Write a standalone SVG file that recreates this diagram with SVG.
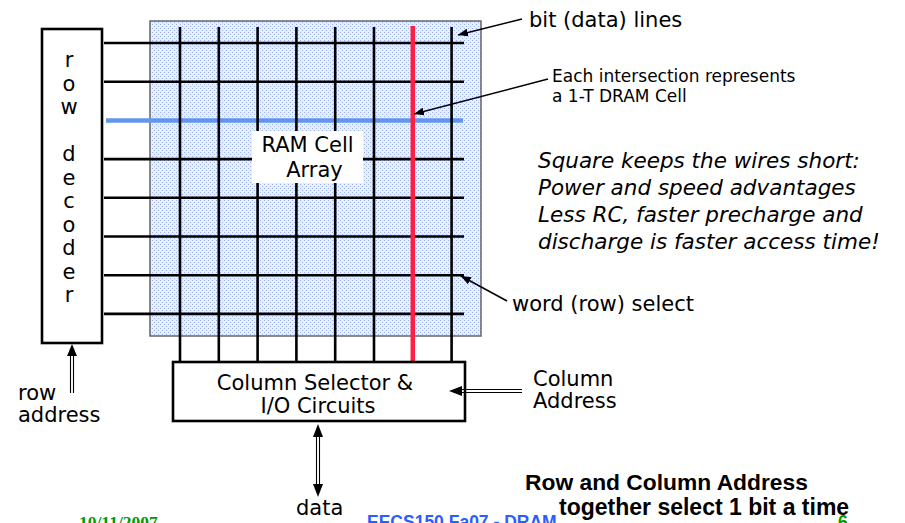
<svg xmlns="http://www.w3.org/2000/svg" width="905" height="523" viewBox="0 0 905 523">
<style>
.t{font-family:"DejaVu Sans","Liberation Sans",sans-serif;font-size:21px;fill:#000}
.it{font-family:"DejaVu Sans","Liberation Sans",sans-serif;font-size:21.5px;font-style:italic;fill:#000}
.sm{font-family:"DejaVu Sans","Liberation Sans",sans-serif;font-size:17px;fill:#000}
.bold{font-family:"Liberation Sans",Arial,sans-serif;font-weight:bold;fill:#000}
.wire{stroke:#000;stroke-width:2.6;fill:none}
.box{fill:#fff;stroke:#000;stroke-width:2.6}
.thin{stroke:#000;stroke-width:1.5;fill:none}
.dbl{stroke:#000;stroke-width:1.1;fill:none}
</style>
<defs>
<pattern id="dots" width="4" height="4" patternUnits="userSpaceOnUse">
<rect width="4" height="4" fill="#e8eefc"/>
<rect x="0" y="0" width="1" height="1" fill="#9bb3ec"/>
<rect x="2" y="2" width="1" height="1" fill="#9bb3ec"/>
</pattern>
<marker id="ah" viewBox="0 0 10 8" refX="10" refY="4" markerWidth="10" markerHeight="8" markerUnits="userSpaceOnUse" orient="auto">
<path d="M0,0 L10,4 L0,8 Z" fill="#000"/>
</marker>
</defs>

<g id="cell-array">
<rect x="150" y="21" width="331" height="315" fill="url(#dots)" stroke="#666" stroke-width="1.5"/>
<g class="wire">
<line x1="104" y1="43" x2="464" y2="43"/>
<line x1="104" y1="81.7" x2="464" y2="81.7"/>
<line x1="104" y1="159.1" x2="464" y2="159.1"/>
<line x1="104" y1="197.8" x2="464" y2="197.8"/>
<line x1="104" y1="236.5" x2="464" y2="236.5"/>
<line x1="104" y1="275.2" x2="464" y2="275.2"/>
<line x1="104" y1="313.9" x2="464" y2="313.9"/>
</g>
<line x1="106" y1="120.4" x2="463" y2="120.4" stroke="#6495ed" stroke-width="4.5"/>
<g class="wire">
<line x1="180" y1="27" x2="180" y2="362"/>
<line x1="218.8" y1="27" x2="218.8" y2="362"/>
<line x1="257.6" y1="27" x2="257.6" y2="362"/>
<line x1="296.4" y1="27" x2="296.4" y2="362"/>
<line x1="335.2" y1="27" x2="335.2" y2="362"/>
<line x1="374" y1="27" x2="374" y2="362"/>
<line x1="451.6" y1="27" x2="451.6" y2="362"/>
</g>
<line x1="412.8" y1="26" x2="412.8" y2="362" stroke="#ff1f44" stroke-width="4.5"/>
<rect x="252" y="131" width="111" height="52" fill="#fff"/>
<text class="t" x="307.5" y="152" text-anchor="middle">RAM Cell</text>
<text class="t" x="314.5" y="177" text-anchor="middle">Array</text>
</g>

<g id="row-decoder">
<rect class="box" x="42" y="29" width="60" height="314"/>
<g class="t" text-anchor="middle">
<text x="69" y="67">r</text>
<text x="69" y="90.5">o</text>
<text x="69" y="114">w</text>
<text x="69" y="161">d</text>
<text x="69" y="184.5">e</text>
<text x="69" y="208">c</text>
<text x="69" y="231.5">o</text>
<text x="69" y="255">d</text>
<text x="69" y="278.5">e</text>
<text x="69" y="302">r</text>
</g>
</g>

<g id="column-selector">
<rect class="box" x="173" y="362" width="292" height="59"/>
<text class="t" x="315" y="390" text-anchor="middle">Column Selector &amp;</text>
<text class="t" x="318" y="413" text-anchor="middle">I/O Circuits</text>
</g>

<g id="connectors">
<line class="dbl" x1="70.5" y1="393" x2="70.5" y2="354"/>
<line class="dbl" x1="73.5" y1="393" x2="73.5" y2="354"/>
<path d="M72,344 L77,356 L67,356 Z" fill="#000"/>
<line class="dbl" x1="522" y1="389.5" x2="461" y2="389.5"/>
<line class="dbl" x1="522" y1="392.5" x2="461" y2="392.5"/>
<path d="M449,391 L462,386 L462,396 Z" fill="#000"/>
<line class="dbl" x1="316.5" y1="435" x2="316.5" y2="486"/>
<line class="dbl" x1="319.5" y1="435" x2="319.5" y2="486"/>
<path d="M318,424 L323,437 L313,437 Z" fill="#000"/>
<path d="M318,497 L323,484 L313,484 Z" fill="#000"/>
<line class="thin" x1="522" y1="19" x2="458" y2="35" marker-end="url(#ah)"/>
<line class="thin" x1="548" y1="79" x2="414" y2="114" marker-end="url(#ah)"/>
<line class="thin" x1="507" y1="301" x2="461" y2="276" marker-end="url(#ah)"/>
</g>

<g id="labels">
<text class="t" x="529" y="27">bit (data) lines</text>
<text class="sm" x="552" y="82">Each intersection represents</text>
<text class="sm" x="552" y="102">a 1-T DRAM Cell</text>
<text class="it" x="538" y="168">Square keeps the wires short:</text>
<text class="it" x="538" y="195">Power and speed advantages</text>
<text class="it" x="538" y="222">Less RC, faster precharge and</text>
<text class="it" x="538" y="249">discharge is faster access time!</text>
<text class="t" x="512" y="311">word (row) select</text>
<text class="t" x="18" y="400">row</text>
<text class="t" x="18" y="422">address</text>
<text class="t" x="533" y="386" font-size="20.5">Column</text>
<text class="t" x="533" y="408" font-size="20.5">Address</text>
<text class="t" x="296" y="515">data</text>
<text class="bold" x="525" y="490" font-size="22.8">Row and Column Address</text>
<text class="bold" x="559" y="515" font-size="23">together select 1 bit a time</text>
<text x="79" y="528" font-family="'Liberation Serif','Times New Roman',serif" font-weight="bold" font-size="17.5" fill="#009900">10/11/2007</text>
<text x="367" y="527.5" font-family="'Liberation Sans',Arial,sans-serif" font-weight="bold" font-size="17.5" fill="#2a5cff">EECS150 Fa07 - DRAM</text>
<text x="838" y="528" font-family="'Liberation Sans',Arial,sans-serif" font-weight="bold" font-size="17.5" fill="#009900">6</text>
</g>
</svg>
